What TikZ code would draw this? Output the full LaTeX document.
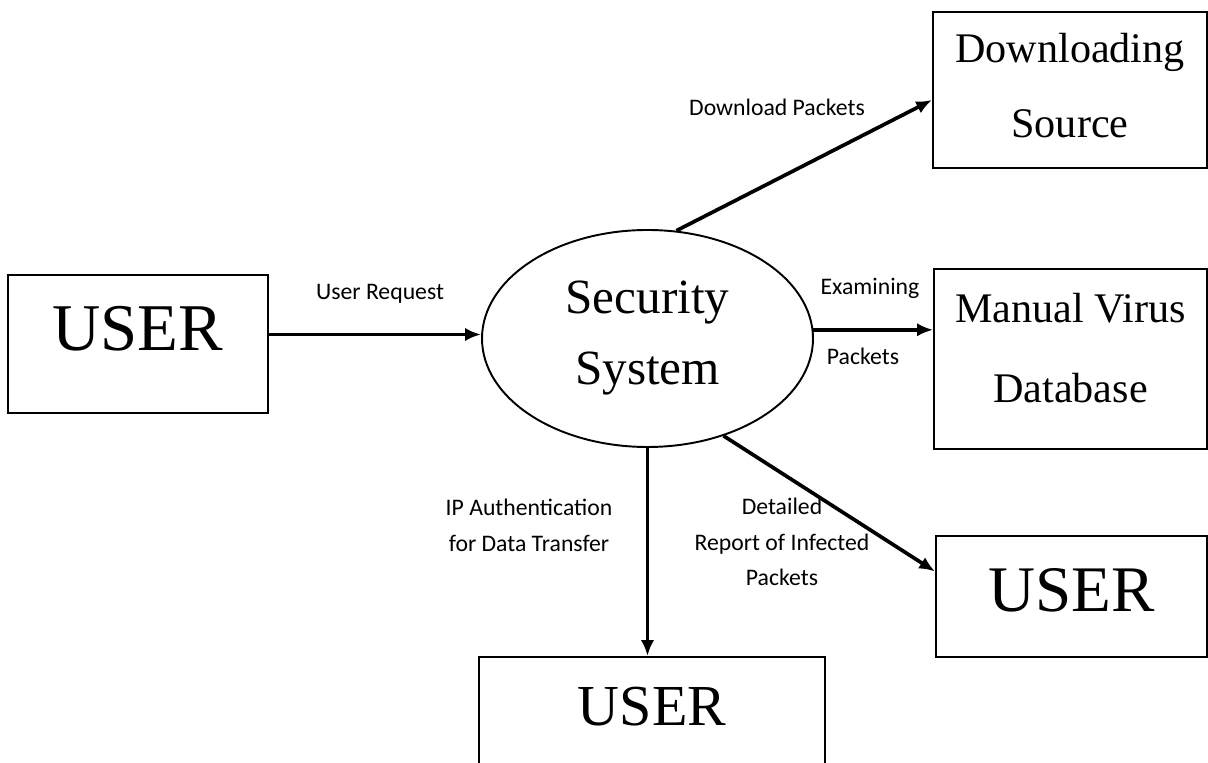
\documentclass[tikz,border=0pt]{standalone}
\usepackage{fontspec}
\setmainfont{Liberation Serif}
\newfontfamily\lblfont{Carlito}
\usetikzlibrary{shapes.geometric, arrows.meta}

\begin{document}
\begin{tikzpicture}[
  box/.style={rectangle, draw, line width=1.1pt, align=center, inner sep=0pt},
  proc/.style={ellipse, draw, line width=1.1pt, align=center, minimum width=6.62cm, minimum height=4.34cm, inner sep=0pt, font=\fontsize{28}{40.4}\selectfont},
  lbl/.style={align=center, font=\lblfont\fontsize{13.5}{20.4}\selectfont},
  arrow/.style={-{Latex[length=9pt, width=7.5pt]}, line width=2.1pt}
]
\useasboundingbox (0,0) rectangle (24.16,15.24);
\clip (0,0) rectangle (24.16,15.24);
\fill[white] (0,0) rectangle (24.16,15.24);

% entities and the process
\node (usr1) [box, minimum width=5.2cm, minimum height=2.76cm, text depth=0.64cm, font=\fontsize{38}{40}\selectfont] at (2.76,8.36) {USER};
\node (sec) [proc] at (12.95,8.47) {Security\\System};
\node (dl) [box, minimum width=5.48cm, minimum height=3.12cm, text depth=0.18cm, font=\fontsize{24}{42.7}\selectfont] at (21.4,13.44) {Downloading\\Source};
\node (mvd) [box, minimum width=5.46cm, minimum height=3.6cm, text depth=0.44cm, font=\fontsize{24}{45.4}\selectfont] at (21.41,8.06) {Manual Virus\\Database};
\node (usr3) [box, minimum width=5.42cm, minimum height=2.42cm, text depth=0.28cm, font=\fontsize{37}{40}\selectfont] at (21.43,3.31) {USER};
\node (usr2) [box, minimum width=6.92cm, minimum height=2.4cm, text depth=0.44cm, font=\fontsize{33}{36}\selectfont] at (13.04,0.9) {USER};

% flows
\draw [arrow] ([yshift=0.08cm]sec.west -| usr1.east) -- ([yshift=0.08cm]sec.west);
\draw [arrow] (sec.75) -- ([yshift=-0.2cm]dl.west);
\draw [arrow] (sec.3) -- (sec.3 -| mvd.west);
\draw [arrow] (sec.-52) -- ([yshift=0.5cm]usr3.west);
\draw [arrow] (sec.south) -- (sec.south |- usr2.north);

% flow labels
\node (reqlbl) [lbl, anchor=base] at (7.6,9.24) {User Request};
\node (dllbl) [lbl, anchor=base] at (15.54,12.92) {Download Packets};
\node (exlbl) [lbl, anchor=base] at (17.4,9.34) {Examining};
\node (pklbl) [lbl, anchor=base] at (17.26,7.94) {Packets};
\node (iplbl) [lbl] at (10.58,4.74) {IP Authentication\\for Data Transfer};
\node (replbl) [lbl] at (15.64,4.4) {Detailed\\Report of Infected\\Packets};

\end{tikzpicture}
\end{document}
